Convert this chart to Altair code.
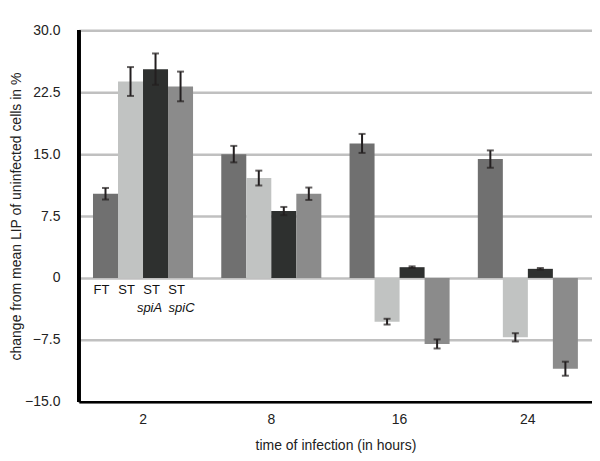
import altair as alt
import pandas as pd

times = ["2", "8", "16", "24"]
strains = ["FT", "ST", "ST spiA", "ST spiC"]
colors = ["#707070", "#c1c3c2", "#2e302f", "#8b8b8b"]

values = {
    "FT":      [10.2, 15.0, 16.3, 14.4],
    "ST":      [23.8, 12.1, -5.3, -7.2],
    "ST spiA": [25.3, 8.1, 1.3, 1.1],
    "ST spiC": [23.2, 10.2, -8.0, -11.0],
}
errors = {
    "FT":      [0.7, 1.0, 1.15, 1.05],
    "ST":      [1.75, 0.9, 0.35, 0.5],
    "ST spiA": [1.9, 0.5, 0.1, 0.1],
    "ST spiC": [1.8, 0.75, 0.55, 0.85],
}
y_ticks = [-15, -7.5, 0, 7.5, 15, 22.5, 30]
label_line1 = ["FT", "ST", "ST", "ST"]
label_line2 = ["", "", "spiA", "spiC"]
label2_shift = [0, 0, -6, 1]

rows = []
for s in strains:
    for i, t in enumerate(times):
        v = values[s][i]
        e = errors[s][i]
        rows.append({"time": t, "strain": s, "value": v, "lo": v - e, "hi": v + e})
df = pd.DataFrame(rows)

lab = pd.DataFrame({"time": ["2"] * 4, "strain": strains,
                    "l1": label_line1, "l2": label_line2})

FONT = "Liberation Sans"

x_enc = alt.X("time:N", sort=times,
              scale=alt.Scale(paddingInner=0.22, paddingOuter=0.11),
              axis=alt.Axis(title="time of infection (in hours)", labelAngle=0))
xo = alt.XOffset("strain:N", sort=strains, scale=alt.Scale(paddingInner=0, paddingOuter=0))
y_scale = alt.Scale(domain=[-15, 30], nice=False, zero=False)

bars = alt.Chart(df).mark_bar().encode(
    x=x_enc,
    xOffset=xo,
    y=alt.Y("value:Q", scale=y_scale,
            axis=alt.Axis(title="change from mean LIP of uninfected cells in %",
                          values=y_ticks,
                          labelExpr="datum.value == 0 ? '0' : format(datum.value, '.1f')",
                          grid=True, titleX=-55)),
    y2=alt.datum(0),
    color=alt.Color("strain:N", sort=strains,
                    scale=alt.Scale(domain=strains, range=colors), legend=None),
)

rules = alt.Chart(df).mark_rule(color="#231f20", strokeWidth=2).encode(
    x=alt.X("time:N", sort=times),
    xOffset=xo,
    y=alt.Y("lo:Q", scale=y_scale),
    y2="hi:Q",
)
cap_lo = alt.Chart(df).mark_tick(color="#231f20", thickness=2, size=7).encode(
    x=alt.X("time:N", sort=times), xOffset=xo, y=alt.Y("lo:Q", scale=y_scale))
cap_hi = alt.Chart(df).mark_tick(color="#231f20", thickness=2, size=7).encode(
    x=alt.X("time:N", sort=times), xOffset=xo, y=alt.Y("hi:Q", scale=y_scale))

# left axis line
yline = alt.Chart(df).mark_rule(color="#000000", strokeWidth=2.5).encode(
    x=alt.value(0), y=alt.datum(-15), y2=alt.datum(30))

t1 = alt.Chart(lab).mark_text(font=FONT, fontSize=13, color="#111111",
                              baseline="middle", dy=12, dx=-4).encode(
    x=alt.X("time:N", sort=times), xOffset=xo, y=alt.datum(0), text="l1:N")
t2a = alt.Chart(lab.iloc[[2]]).mark_text(font=FONT, fontSize=13, color="#111111",
                                          baseline="middle", dy=30, dx=label2_shift[2],
                                          fontStyle="italic").encode(
    x=alt.X("time:N", sort=times), xOffset=xo, y=alt.datum(0), text="l2:N")
t2b = alt.Chart(lab.iloc[[3]]).mark_text(font=FONT, fontSize=13, color="#111111",
                                          baseline="middle", dy=30, dx=label2_shift[3],
                                          fontStyle="italic").encode(
    x=alt.X("time:N", sort=times), xOffset=xo, y=alt.datum(0), text="l2:N")

chart = alt.layer(bars, rules, cap_lo, cap_hi, yline, t1, t2a, t2b).properties(
    width=514, height=372,
    autosize=alt.AutoSizeParams(type="none"),
    padding={"left": 71, "top": 22, "right": 0, "bottom": 51},
).configure_view(stroke=None).configure(background="#ffffff").configure_axisY(
    grid=True, gridColor="#c0c0c0", gridWidth=2.5,
    domain=True, domainColor="#000000", domainWidth=2.5,
    ticks=False, labelPadding=19, labelFontSize=14, labelColor="#222222",
    titleFontSize=14, titleFontWeight="normal", titleColor="#222222",
    labelFont=FONT, titleFont=FONT,
).configure_axisX(
    grid=False, domain=True, domainColor="#000000", domainWidth=2.5,
    ticks=False, labelPadding=11, labelFontSize=14, labelColor="#222222",
    titleFontSize=14, titleFontWeight="normal", titleColor="#222222",
    titlePadding=12, labelFont=FONT, titleFont=FONT,
)

chart.save("out.html", embed_options={"renderer": "svg", "actions": False})
